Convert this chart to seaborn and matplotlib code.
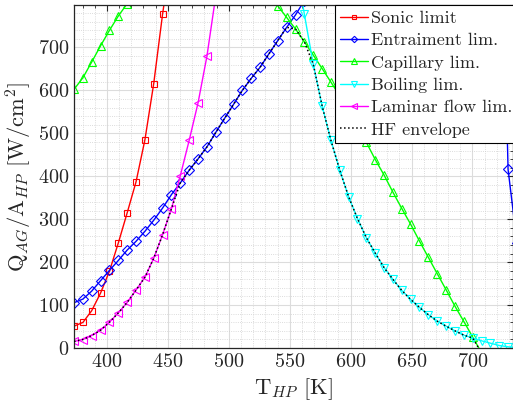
import numpy as np
import pandas as pd
import matplotlib
matplotlib.use("Agg")
import matplotlib.pyplot as plt
from matplotlib.ticker import MultipleLocator
import seaborn as sns

nan = np.nan

# Heat-pipe temperature grid [K]
T_hp = [373.0, 380.3, 387.5, 394.8, 402.1, 409.4, 416.6, 423.9, 431.2, 438.4,
        445.7, 453.0, 460.2, 467.5, 474.8, 482.1, 489.3, 496.6, 503.9, 511.1,
        518.4, 525.7, 532.9, 540.2, 547.5, 554.8, 562.0, 569.3, 576.6, 583.8,
        591.1, 598.4, 605.6, 612.9, 620.2, 627.5, 634.7, 642.0, 649.3, 656.5,
        663.8, 671.1, 678.3, 685.6, 692.9, 700.2, 707.4, 714.7, 722.0, 729.2,
        736.5]

# Heat-flux limits Q_AG / A_HP [W/cm^2]
sonic = [50.9, 59.5, 86.8, 128, 179, 245, 314.5, 387, 485, 615.5,
         778, 920] + [nan] * 39

entrainment = [105.5, 114, 132.5, 156.8, 180.8, 204, 228, 248.5, 271.8, 297.5,
               326, 357.5, 384.5, 414, 440.5, 468.5, 502, 535, 567.5, 600,
               628, 654, 685, 716, 747, 776, 809] + [nan] * 21 + [1270, 416, 245]

capillary = [602.4, 629.5, 666, 704, 740, 773.5, 802] + [nan] * 15 + \
            [815, 797, 770, 743, 713.5, 682.5, 651, 619.5, 587, 553,
             518, 479, 439, 402.5, 363, 324.8, 288, 249, 211, 173,
             135.8, 97.5, 61.8, 25.3, -11, -48, -86, -125, -165]

boiling = [nan] * 25 + \
          [900, 778, 661.5, 564, 484, 414, 352, 301.5, 257, 221,
           187, 160, 134, 113, 94.5, 77.5, 62.5, 51, 40, 30,
           23, 16.8, 11.2, 5.8, 2.8, 1.0]

laminar = [15.2, 19.8, 29, 41.5, 60.2, 82, 106, 135, 165, 209,
           264, 324.8, 401, 483.5, 571, 680, 820] + [nan] * 34

series = [
    ("Sonic limit", sonic, "#ff0000", "s"),
    ("Entraiment lim.", entrainment, "#0000ff", "D"),
    ("Capillary lim.", capillary, "#00ff00", "^"),
    ("Boiling lim.", boiling, "#00ffff", "v"),
    ("Laminar flow lim.", laminar, "#ff00ff", "<"),
]

# Operating envelope: lowest limit at each temperature
envelope = np.fmin.reduce(np.array([s[1] for s in series], dtype=float), axis=0)

sns.set_style("white")
plt.rcParams.update({
    "font.family": ["cmr10", "DejaVu Sans"],
    "mathtext.fontset": "cm",
    "axes.formatter.use_mathtext": True,
    "axes.unicode_minus": False,
})

fig = plt.figure(figsize=(5.13, 4.07), dpi=100)
ax = fig.add_axes([74 / 513, 59 / 407, 438.7 / 513, 343 / 407])

for label, vals, color, marker in series:
    df = pd.DataFrame({"T": T_hp, "Q": vals})
    sns.lineplot(data=df, x="T", y="Q", ax=ax, color=color, marker=marker,
                 markersize=5.0 if marker in "sD" else 5.8, markerfacecolor="none",
                 markeredgecolor=color, markeredgewidth=0.8, linewidth=1.0,
                 label=label, sort=False, estimator=None)

sns.lineplot(x=T_hp, y=envelope, ax=ax, color="black", linestyle=":",
             linewidth=1.1, label="HF envelope", sort=False, estimator=None,
             zorder=5)

ax.set_xlim(373, 733)
ax.set_ylim(0, 799)
ax.xaxis.set_major_locator(MultipleLocator(50))
ax.xaxis.set_minor_locator(MultipleLocator(10))
ax.yaxis.set_major_locator(MultipleLocator(100))
ax.yaxis.set_minor_locator(MultipleLocator(20))

ax.grid(True, which="major", color="#dcdcdc", linewidth=0.8, linestyle="-")
ax.grid(True, which="minor", color="#d0d0d0", linewidth=0.6, linestyle=":")
ax.set_axisbelow(True)

ax.tick_params(which="both", direction="in", top=True, right=True,
               colors="#262626", labelcolor="#262626")
ax.tick_params(which="major", length=4.5, width=0.8, labelsize=14.5)
ax.tick_params(which="minor", length=2.5, width=0.6)
for sp in ax.spines.values():
    sp.set_color("#262626")
    sp.set_linewidth(0.9)

ax.set_xlabel(r"$\mathrm{T}_{HP}$ [K]", fontsize=16.3, color="#262626", labelpad=4)
ax.set_ylabel(r"$\mathrm{Q}_{AG}/\mathrm{A}_{HP}$ [W/cm$^2$]", fontsize=16.2,
              color="#262626", labelpad=3)

leg = ax.legend(loc="upper left", bbox_to_anchor=(0.595, 1.0), borderaxespad=0,
                fontsize=13.0, frameon=True, fancybox=False, framealpha=1,
                edgecolor="black", handlelength=1.55, handletextpad=0.15,
                labelspacing=0.37, borderpad=0.3, markerscale=0.65)
leg.get_frame().set_linewidth(0.8)
leg.set_zorder(10)

fig.savefig("out.png", dpi=100)
